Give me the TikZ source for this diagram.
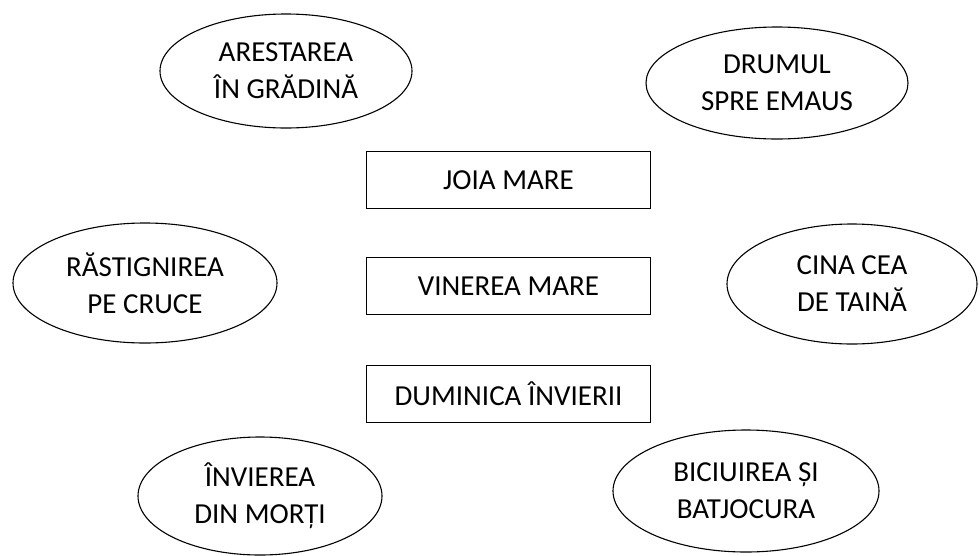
\documentclass[tikz,border=0pt]{standalone}
\usepackage{fontspec}
\setmainfont{Carlito}
\usetikzlibrary{shapes.geometric}

\begin{document}
\begin{tikzpicture}[x=1pt, y=-1pt,
  eveniment/.style={draw, line width=1.1pt, ellipse, inner sep=0pt, align=center,
    font=\fontsize{29}{37}\selectfont},
  zi/.style={draw, line width=1.1pt, rectangle, minimum width=284pt, minimum height=57pt,
    inner sep=0pt, font=\fontsize{29}{37}\selectfont}]
\useasboundingbox (0,0) rectangle (980,555);

% zilele din mijloc
\node[zi] (joi) at (508.5,180) {JOIA MARE};
\node[zi] (vineri) at (508.5,286) {VINEREA MARE};
\node[zi] (duminica) at (508.5,394) {DUMINICA ÎNVIERII};

% evenimentele
\node[eveniment, minimum width=252pt, minimum height=114pt] (arestare) at (286,71) {ARESTAREA\\ÎN GRĂDINĂ};
\node[eveniment, minimum width=262pt, minimum height=112pt] (emaus) at (777,83) {DRUMUL\\SPRE EMAUS};
\node[eveniment, minimum width=264pt, minimum height=120pt] (rastignire) at (145,283) {RĂSTIGNIREA\\PE CRUCE};
\node[eveniment, minimum width=250pt, minimum height=120pt] (cina) at (852,284) {CINA CEA\\DE TAINĂ};
\node[eveniment, minimum width=244pt, minimum height=118pt] (inviere) at (260,496) {ÎNVIEREA\\DIN MORȚI};
\node[eveniment, minimum width=266pt, minimum height=122pt] (biciuire) at (746,491) {BICIUIREA ȘI\\BATJOCURA};

\end{tikzpicture}
\end{document}
